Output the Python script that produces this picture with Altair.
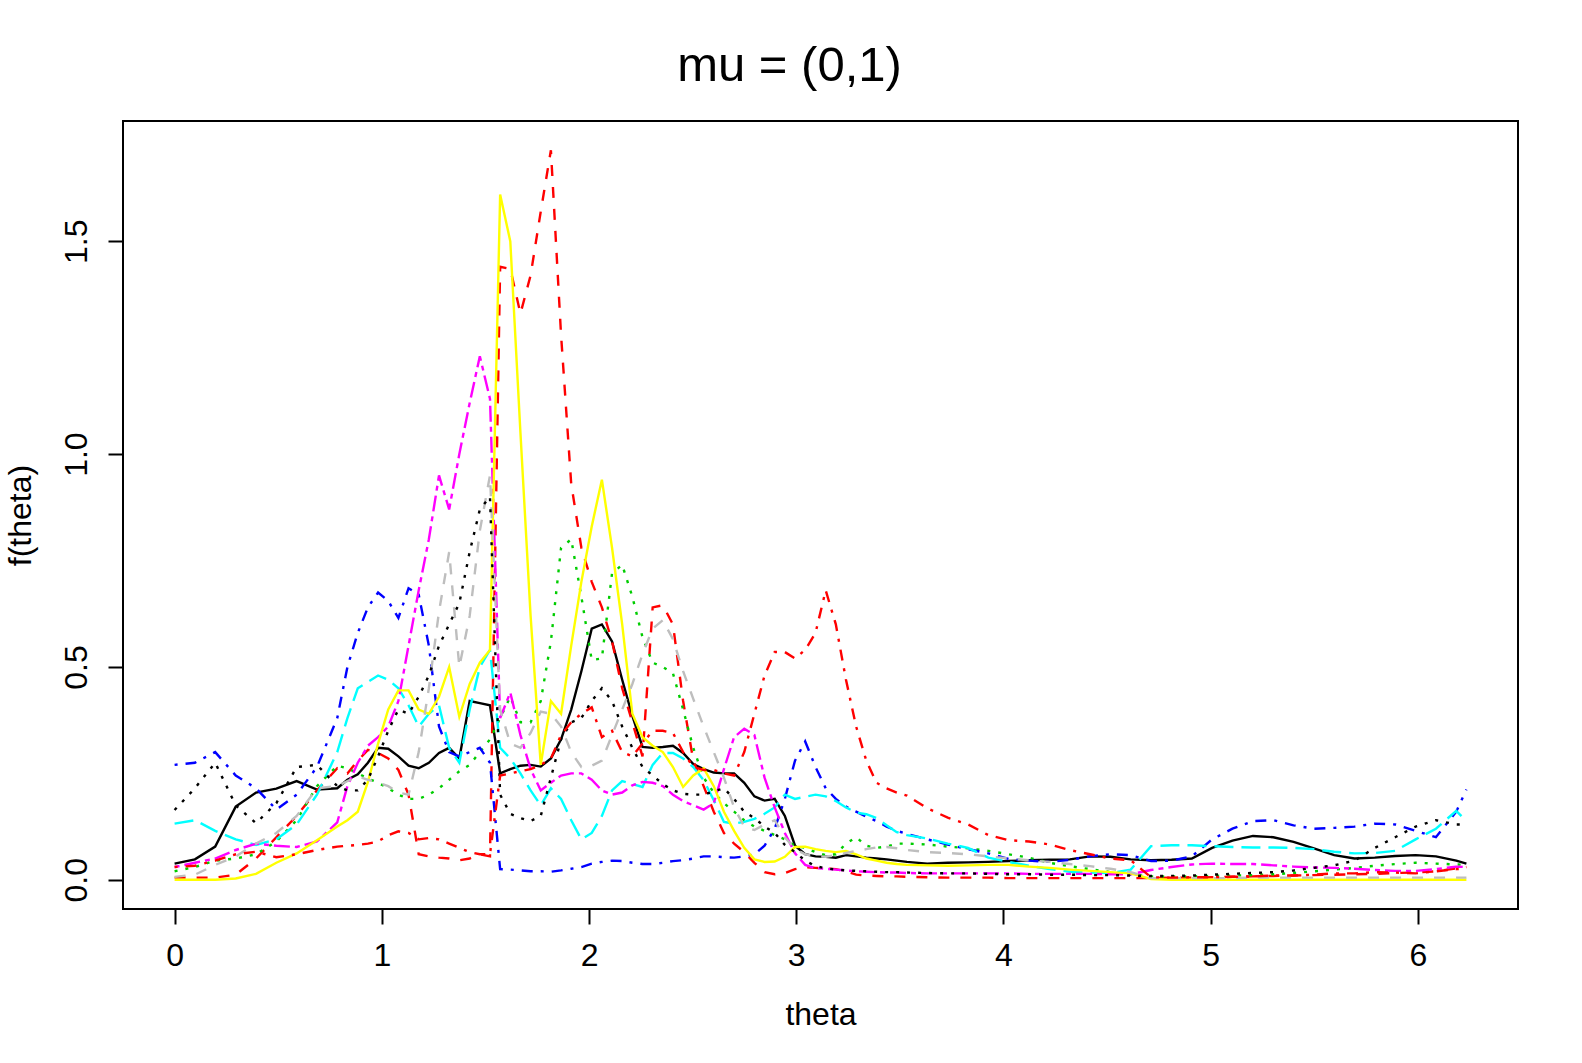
import altair as alt
import pandas as pd

# sampling grid of theta
theta = [0.000, 0.098, 0.196, 0.295, 0.393, 0.491, 0.589, 0.687,
         0.785, 0.834, 0.884, 0.933, 0.982, 1.031, 1.080, 1.129, 1.178, 1.227,
         1.276, 1.325, 1.374, 1.424, 1.473, 1.522, 1.571, 1.620, 1.669, 1.718,
         1.767, 1.816, 1.865, 1.914, 1.963, 2.013, 2.062, 2.111, 2.160, 2.209,
         2.258, 2.307, 2.356, 2.405, 2.454, 2.503, 2.553, 2.602, 2.651, 2.700,
         2.749, 2.798, 2.847, 2.896, 2.945, 2.994, 3.043, 3.093, 3.142, 3.191,
         3.240, 3.289, 3.338, 3.387, 3.436, 3.485, 3.534,
         3.632, 3.731, 3.829, 3.927, 4.025, 4.123, 4.222, 4.320, 4.418, 4.516,
         4.614, 4.712, 4.811, 4.909, 5.007, 5.105, 5.204, 5.302, 5.400, 5.498,
         5.596, 5.694, 5.792, 5.890, 5.989, 6.087, 6.185, 6.234]

s1_black_solid = [
    0.038, 0.048, 0.078, 0.172, 0.205, 0.214, 0.232, 0.212,
    0.215, 0.235, 0.248, 0.275, 0.31, 0.308, 0.29, 0.268, 0.262, 0.275,
    0.298, 0.31, 0.285, 0.42, 0.415, 0.41, 0.25, 0.26, 0.268, 0.27,
    0.266, 0.285, 0.33, 0.40, 0.49, 0.59, 0.60, 0.56, 0.47, 0.385,
    0.312, 0.31, 0.312, 0.315, 0.298, 0.272, 0.26, 0.252, 0.25, 0.25,
    0.228, 0.196, 0.186, 0.19, 0.15, 0.08, 0.06, 0.055, 0.054, 0.052,
    0.058, 0.055, 0.052, 0.05, 0.048, 0.045, 0.042,
    0.038, 0.040, 0.041, 0.042, 0.044, 0.046, 0.047, 0.048, 0.055, 0.054,
    0.048, 0.046, 0.047, 0.050, 0.075, 0.092, 0.103, 0.100, 0.089, 0.074,
    0.058, 0.050, 0.052, 0.056, 0.058, 0.055, 0.045, 0.038]

s2_red_dashed = [
    0.005, 0.005, 0.005, 0.012, 0.05, 0.10, 0.15, 0.21,
    0.262, 0.25, 0.28, 0.305, 0.298, 0.285, 0.258, 0.20, 0.06, 0.055,
    0.052, 0.05, 0.046, 0.05, 0.06, 0.055, 1.44, 1.435, 1.33, 1.42,
    1.57, 1.714, 1.28, 0.93, 0.78, 0.70, 0.64, 0.56, 0.45, 0.37,
    0.29, 0.64, 0.645, 0.60, 0.42, 0.28, 0.22, 0.16, 0.11, 0.085,
    0.065, 0.04, 0.018, 0.013, 0.016, 0.025, 0.03, 0.028, 0.027, 0.025,
    0.02, 0.012, 0.01, 0.009, 0.008, 0.008, 0.007,
    0.006, 0.005, 0.005, 0.005, 0.004, 0.004, 0.004, 0.004, 0.004, 0.004,
    0.004, 0.004, 0.005, 0.005, 0.006, 0.007, 0.008, 0.009, 0.010, 0.011,
    0.012, 0.013, 0.014, 0.016, 0.017, 0.020, 0.027, 0.030]

s3_green_dotted = [
    0.02, 0.03, 0.045, 0.05, 0.06, 0.09, 0.14, 0.22,
    0.268, 0.262, 0.25, 0.238, 0.228, 0.215, 0.2, 0.19, 0.19, 0.2,
    0.215, 0.235, 0.255, 0.27, 0.30, 0.33, 0.38, 0.43, 0.37, 0.37,
    0.42, 0.56, 0.78, 0.80, 0.665, 0.516, 0.52, 0.72, 0.74, 0.665,
    0.57, 0.51, 0.50, 0.485, 0.40, 0.31, 0.24, 0.205, 0.18, 0.16,
    0.14, 0.125, 0.115, 0.105, 0.095, 0.08, 0.075, 0.065, 0.058, 0.06,
    0.085, 0.10, 0.08, 0.075, 0.078, 0.085, 0.085,
    0.083, 0.078, 0.074, 0.068, 0.06, 0.052, 0.04, 0.032, 0.025, 0.018,
    0.012, 0.008, 0.008, 0.008, 0.009, 0.01, 0.011, 0.013, 0.016, 0.02,
    0.024, 0.028, 0.033, 0.037, 0.04, 0.038, 0.036, 0.035]

s4_blue_dotdash = [
    0.27, 0.275, 0.30, 0.245, 0.215, 0.165, 0.20, 0.265,
    0.38, 0.50, 0.58, 0.64, 0.675, 0.655, 0.615, 0.685, 0.67, 0.55,
    0.36, 0.30, 0.29, 0.30, 0.31, 0.275, 0.025, 0.024, 0.022, 0.02,
    0.02, 0.019, 0.022, 0.026, 0.03, 0.038, 0.042, 0.045, 0.044, 0.04,
    0.037, 0.037, 0.04, 0.044, 0.046, 0.05, 0.055, 0.055, 0.053, 0.052,
    0.055, 0.06, 0.08, 0.12, 0.19, 0.28, 0.325, 0.265, 0.215, 0.19,
    0.172, 0.16, 0.148, 0.138, 0.125, 0.115, 0.108,
    0.095, 0.083, 0.072, 0.062, 0.049, 0.045, 0.042, 0.047, 0.055, 0.06,
    0.058, 0.044, 0.045, 0.055, 0.095, 0.12, 0.138, 0.14, 0.128, 0.12,
    0.122, 0.125, 0.132, 0.13, 0.115, 0.10, 0.16, 0.212]

s5_cyan_longdash = [
    0.132, 0.14, 0.115, 0.095, 0.082, 0.095, 0.13, 0.20,
    0.30, 0.38, 0.45, 0.465, 0.48, 0.47, 0.45, 0.41, 0.36, 0.39,
    0.41, 0.31, 0.275, 0.40, 0.50, 0.54, 0.31, 0.285, 0.25, 0.21,
    0.175, 0.215, 0.19, 0.14, 0.095, 0.11, 0.15, 0.21, 0.232, 0.225,
    0.218, 0.27, 0.298, 0.298, 0.285, 0.265, 0.234, 0.187, 0.136, 0.132,
    0.136, 0.143, 0.155, 0.17, 0.20, 0.19, 0.195, 0.20, 0.196, 0.185,
    0.17, 0.158, 0.154, 0.145, 0.128, 0.112, 0.105,
    0.097, 0.085, 0.075, 0.052, 0.042, 0.033, 0.025, 0.019, 0.017, 0.016,
    0.024, 0.079, 0.081, 0.081, 0.079, 0.077, 0.076, 0.076, 0.075, 0.072,
    0.066, 0.062, 0.063, 0.068, 0.095, 0.12, 0.162, 0.138]

s6_magenta_twodash = [
    0.03, 0.04, 0.05, 0.07, 0.085, 0.08, 0.077, 0.09,
    0.135, 0.22, 0.275, 0.315, 0.335, 0.36, 0.42, 0.55, 0.68, 0.80,
    0.95, 0.87, 1.0, 1.12, 1.23, 1.13, 0.38, 0.44, 0.34, 0.26,
    0.21, 0.228, 0.245, 0.25, 0.25, 0.235, 0.21, 0.2, 0.205, 0.222,
    0.23, 0.228, 0.22, 0.2, 0.185, 0.175, 0.165, 0.18, 0.26, 0.335,
    0.355, 0.34, 0.24, 0.17, 0.11, 0.062, 0.035, 0.027, 0.026, 0.024,
    0.022, 0.02, 0.019, 0.018, 0.017, 0.017, 0.016,
    0.015, 0.015, 0.015, 0.015, 0.015, 0.014, 0.014, 0.014, 0.014, 0.013,
    0.013, 0.023, 0.03, 0.036, 0.038, 0.037, 0.037, 0.034, 0.031, 0.029,
    0.028, 0.026, 0.023, 0.021, 0.021, 0.025, 0.031, 0.03]

s7_yellow_solid = [
    0.0, 0.0, 0.0, 0.003, 0.014, 0.04, 0.062, 0.093,
    0.125, 0.14, 0.16, 0.23, 0.32, 0.40, 0.445, 0.445, 0.40, 0.39,
    0.43, 0.50, 0.383, 0.46, 0.51, 0.54, 1.61, 1.50, 1.05, 0.62,
    0.27, 0.42, 0.39, 0.55, 0.70, 0.83, 0.94, 0.78, 0.60, 0.39,
    0.335, 0.315, 0.30, 0.265, 0.218, 0.245, 0.262, 0.22, 0.16, 0.115,
    0.075, 0.048, 0.042, 0.043, 0.054, 0.077, 0.078, 0.072, 0.068, 0.065,
    0.068, 0.06, 0.05, 0.045, 0.04, 0.037, 0.035,
    0.034, 0.033, 0.034, 0.035, 0.035, 0.031, 0.028, 0.024, 0.021, 0.018,
    0.015, 0.002, 0.0, 0.0, 0.0, 0.0, 0.0, 0.0, 0.0, 0.0,
    0.0, 0.0, 0.0, 0.0, 0.0, 0.0, 0.0, 0.0]

s8_gray_dashed = [
    0.007, 0.012, 0.035, 0.055, 0.085, 0.11, 0.15, 0.215,
    0.22, 0.232, 0.243, 0.235, 0.228, 0.22, 0.205, 0.20, 0.30, 0.45,
    0.63, 0.77, 0.50, 0.62, 0.82, 0.95, 0.40, 0.32, 0.31, 0.345,
    0.395, 0.39, 0.36, 0.30, 0.265, 0.268, 0.28, 0.34, 0.40, 0.46,
    0.53, 0.59, 0.61, 0.565, 0.49, 0.425, 0.36, 0.30, 0.24, 0.17,
    0.125, 0.117, 0.13, 0.14, 0.10, 0.072, 0.06, 0.055, 0.054, 0.058,
    0.063, 0.068, 0.072, 0.076, 0.077, 0.074, 0.07,
    0.065, 0.063, 0.06, 0.055, 0.05, 0.046, 0.042, 0.037, 0.032, 0.026,
    0.018, 0.004, 0.004, 0.004, 0.004, 0.004, 0.005, 0.005, 0.005, 0.005,
    0.005, 0.005, 0.005, 0.005, 0.005, 0.005, 0.005, 0.005]

s9_black_dotted = [
    0.164, 0.215, 0.275, 0.175, 0.133, 0.18, 0.265, 0.27,
    0.22, 0.21, 0.21, 0.235, 0.29, 0.35, 0.40, 0.39, 0.43, 0.48,
    0.55, 0.60, 0.65, 0.77, 0.87, 0.90, 0.20, 0.155, 0.145, 0.138,
    0.15, 0.24, 0.33, 0.37, 0.38, 0.42, 0.45, 0.42, 0.36, 0.31,
    0.265, 0.245, 0.225, 0.21, 0.202, 0.20, 0.20, 0.208, 0.215, 0.19,
    0.16, 0.145, 0.125, 0.11, 0.082, 0.065, 0.045, 0.032, 0.027, 0.024,
    0.022, 0.021, 0.02, 0.019, 0.018, 0.018, 0.017,
    0.016, 0.015, 0.015, 0.014, 0.013, 0.013, 0.012, 0.012, 0.011, 0.011,
    0.010, 0.009, 0.009, 0.010, 0.012, 0.014, 0.016, 0.018, 0.022, 0.028,
    0.034, 0.045, 0.075, 0.10, 0.125, 0.14, 0.13, 0.13]

s10_red_dotdash = [
    0.03, 0.033, 0.045, 0.06, 0.066, 0.053, 0.06, 0.07,
    0.078, 0.08, 0.082, 0.085, 0.09, 0.105, 0.114, 0.11, 0.095, 0.098,
    0.095, 0.085, 0.075, 0.065, 0.06, 0.06, 0.245, 0.25, 0.255, 0.26,
    0.27, 0.285, 0.34, 0.37, 0.39, 0.405, 0.335, 0.35, 0.30, 0.29,
    0.32, 0.35, 0.35, 0.345, 0.30, 0.265, 0.258, 0.258, 0.25, 0.245,
    0.30, 0.39, 0.48, 0.535, 0.535, 0.52, 0.54, 0.58, 0.68, 0.60,
    0.47, 0.36, 0.28, 0.228, 0.215, 0.205, 0.198,
    0.168, 0.146, 0.13, 0.105, 0.093, 0.09, 0.083, 0.07, 0.06, 0.05,
    0.046, 0.006, 0.005, 0.006, 0.006, 0.007, 0.008, 0.01, 0.01, 0.012,
    0.015, 0.015, 0.018, 0.017, 0.015, 0.02, 0.025, 0.027]

series = [s1_black_solid, s2_red_dashed, s3_green_dotted, s4_blue_dotdash,
          s5_cyan_longdash, s6_magenta_twodash, s7_yellow_solid, s8_gray_dashed,
          s9_black_dotted, s10_red_dotdash]
colors = ["#000000", "#FF0000", "#00CD00", "#0000FF", "#00FFFF",
          "#FF00FF", "#FFFF00", "#BEBEBE", "#000000", "#FF0000"]
dashes = [None, [11, 11], [3, 8], [3, 8, 11, 8], [19, 8],
          [5, 5, 16, 5], None, [11, 11], [3, 8], [3, 8, 11, 8]]

for s in series:
    if len(s) != len(theta):
        raise ValueError(f"length mismatch {len(s)} vs {len(theta)}")

FONT = "Liberation Sans"
x_scale = alt.Scale(domain=[-0.249, 6.483], nice=False, zero=False)
y_scale = alt.Scale(domain=[-0.0686, 1.7826], nice=False, zero=False)

x_axis = alt.Axis(values=[0, 1, 2, 3, 4, 5, 6], format="d", title="theta",
                  domain=False, grid=False, tickColor="black", tickWidth=2,
                  tickSize=15, labelFont=FONT, labelFontSize=32, labelColor="black",
                  labelBaseline="alphabetic", labelPadding=41, labelFlush=False,
                  labelOverlap=False, titleFont=FONT, titleFontSize=32,
                  titleFontWeight="normal", titleColor="black",
                  titleBaseline="alphabetic", titleY=115)
y_axis = alt.Axis(values=[0, 0.5, 1.0, 1.5], format=".1f", title="f(theta)",
                  domain=False, grid=False, tickColor="black", tickWidth=2,
                  tickSize=15, labelFont=FONT, labelFontSize=32, labelColor="black",
                  labelAngle=270, labelAlign="center", labelBaseline="alphabetic",
                  labelPadding=22, labelFlush=False, labelOverlap=False,
                  titleFont=FONT, titleFontSize=32, titleFontWeight="normal",
                  titleColor="black", titleAngle=270, titleAlign="center",
                  titleBaseline="alphabetic", titleX=-93, titleY=394)

layers = []
for i, (vals, col, dash) in enumerate(zip(series, colors, dashes)):
    df = pd.DataFrame({"theta": theta, "f": vals})
    mark_kwargs = dict(color=col, strokeWidth=2.4, strokeCap="butt", clip=True)
    if dash is not None:
        mark_kwargs["strokeDash"] = dash
    layers.append(
        alt.Chart(df).mark_line(**mark_kwargs).encode(
            x=alt.X("theta:Q", scale=x_scale, axis=x_axis),
            y=alt.Y("f:Q", scale=y_scale, axis=y_axis),
        )
    )

chart = alt.layer(*layers).properties(
    width=1395,
    height=788,
    title=alt.TitleParams("mu = (0,1)", fontSize=49, font=FONT, fontWeight="normal",
                          color="black", anchor="middle", frame="group",
                          baseline="alphabetic", offset=38, dx=-31, dy=47),
    autosize=alt.AutoSizeParams(type="none"),
    padding={"left": 123, "top": 121, "right": 64, "bottom": 154},
    background="white",
).configure_view(stroke="black", strokeWidth=2)

chart.save("out.html", embed_options={"renderer": "svg", "actions": False})
